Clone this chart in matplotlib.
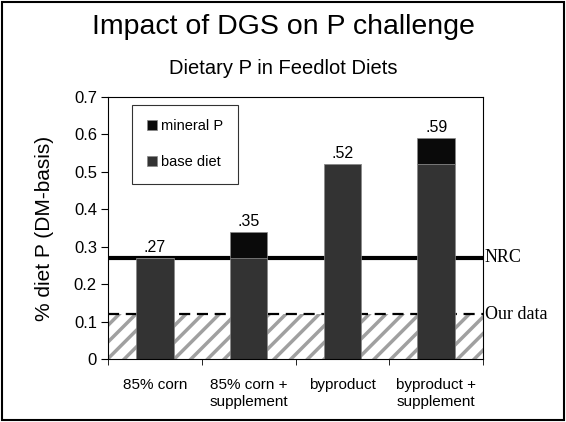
import matplotlib
matplotlib.use('Agg')
import matplotlib.pyplot as plt
from matplotlib.patches import Rectangle

# data
categories = ['85% corn', '85% corn +\nsupplement', 'byproduct', 'byproduct +\nsupplement']
base_diet = [0.27, 0.27, 0.52, 0.52]
mineral_p = [0.0, 0.07, 0.0, 0.07]
bar_labels = ['.27', '.35', '.52', '.59']
nrc_level = 0.27
our_data_level = 0.12

plt.rcParams['font.family'] = 'Liberation Sans'
plt.rcParams['hatch.linewidth'] = 2.5
plt.rcParams['hatch.color'] = '#a0a0a0'

fig = plt.figure(figsize=(5.66, 4.22), dpi=100)
ax = fig.add_axes([108 / 566, 1 - 359 / 422, 375 / 566, 262 / 422])

x = list(range(len(categories)))

# shaded "our data" region, then reference lines, then bars on top
ax.axhspan(0, our_data_level, facecolor='white', edgecolor='#a0a0a0', hatch='//', lw=0, zorder=1)
ax.axhline(our_data_level, color='black', lw=1.6, ls=(0, (5, 3)), zorder=2)
ax.axhline(nrc_level, color='black', lw=3, zorder=2)

ax.bar(x, base_diet, width=0.4, color='#333333', edgecolor='#888888', lw=0.5,
       label='base diet', zorder=3)
ax.bar(x, mineral_p, width=0.4, bottom=base_diet, color='#0a0a0a', edgecolor='#888888', lw=0.5,
       label='mineral P', zorder=3)

for i in range(len(x)):
    top = base_diet[i] + mineral_p[i]
    ax.text(x[i], top + 0.008, bar_labels[i], ha='center', va='bottom', fontsize=11.5)

ax.set_xlim(-0.5, len(x) - 0.5)
ax.set_ylim(0, 0.7)
ax.set_yticks([0, 0.1, 0.2, 0.3, 0.4, 0.5, 0.6, 0.7])
ax.set_yticklabels(['0', '0.1', '0.2', '0.3', '0.4', '0.5', '0.6', '0.7'], fontsize=12)
ax.set_xticks(x)
ax.set_xticklabels(categories, fontsize=11)
ax.tick_params(axis='x', which='major', length=0, pad=14)
ax.set_xticks([-0.5, 0.5, 1.5, 2.5, 3.5], minor=True)
ax.tick_params(axis='x', which='minor', length=4)
ax.tick_params(axis='y', length=5, pad=3)
ax.set_ylabel('% diet P (DM-basis)', fontsize=15, labelpad=14)
for s in ax.spines.values():
    s.set_linewidth(0.8)
    s.set_zorder(4)

# labels outside the axes for the reference lines
ax.text(3.52, nrc_level, 'NRC', family='Liberation Serif', fontsize=13, va='center', ha='left')
ax.text(3.52, our_data_level, 'Our data', family='Liberation Serif', fontsize=13, va='center', ha='left')

handles, labels = ax.get_legend_handles_labels()
leg = ax.legend(handles[::-1], labels[::-1], loc='upper left', bbox_to_anchor=(0.064, 0.97),
                borderaxespad=0, fontsize=10.5, frameon=True, fancybox=False, edgecolor='black',
                handlelength=0.7, handleheight=0.7, labelspacing=1.5,
                borderpad=1.0, handletextpad=0.3)
leg.get_frame().set_linewidth(0.8)

fig.text(0.5, 1 - 27 / 422, 'Impact of DGS on P challenge', ha='center', va='center', fontsize=20.5)
fig.text(0.5, 1 - 69 / 422, 'Dietary P in Feedlot Diets', ha='center', va='center', fontsize=14.5)

fig.patches.append(Rectangle((0.004, 0.005), 0.992, 0.99, transform=fig.transFigure,
                             fill=False, edgecolor='black', lw=1.5))

fig.savefig('out.png', dpi=100)
